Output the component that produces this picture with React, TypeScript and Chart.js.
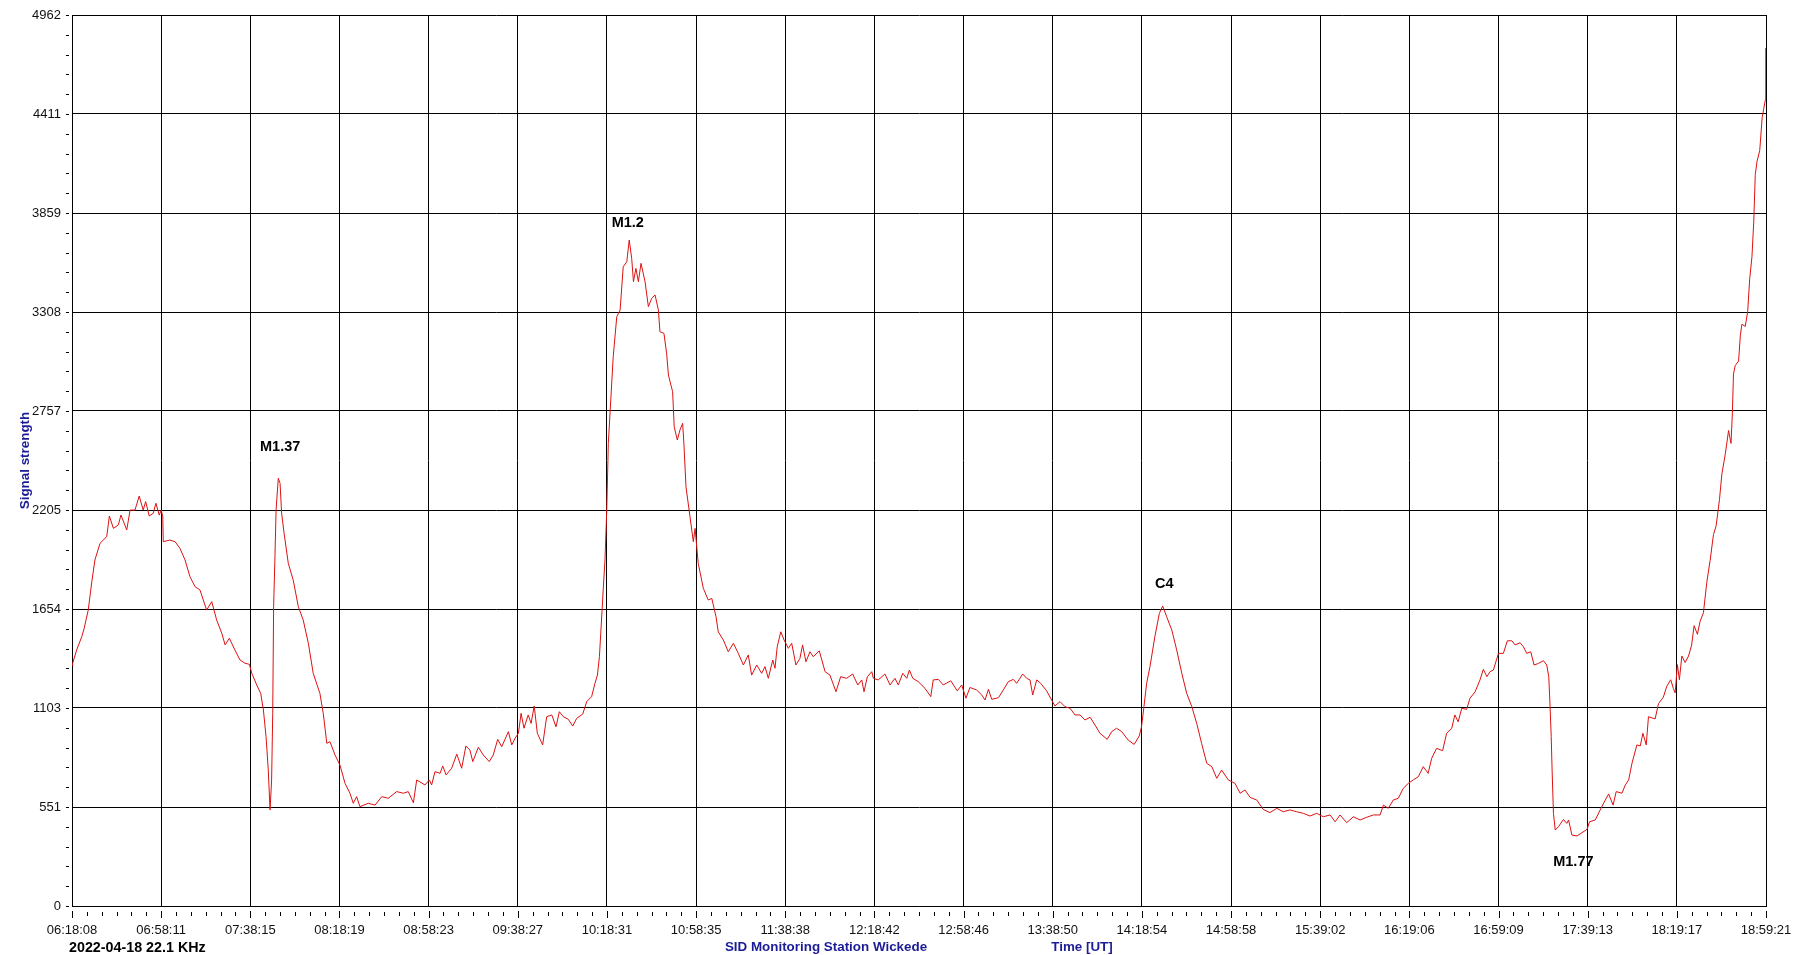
import { useEffect, useRef } from "react";
import { Chart, registerables, type Plugin } from "chart.js";

Chart.register(...registerables);

const FONT = '"Liberation Sans", Arial, sans-serif';
const NAVY = "#1c1c96";

// signal strength axis
const yTicks = [0, 551, 1103, 1654, 2205, 2757, 3308, 3859, 4411, 4962];

// time axis, 06:18:08 .. 18:59:21 UT in 19 equal steps
const xTickLabels = [
  "06:18:08", "06:58:11", "07:38:15", "08:18:19", "08:58:23", "09:38:27", "10:18:31",
  "10:58:35", "11:38:38", "12:18:42", "12:58:46", "13:38:50", "14:18:54", "14:58:58",
  "15:39:02", "16:19:06", "16:59:09", "17:39:13", "18:19:17", "18:59:21",
];
const spanMinutes = 761.2167; // 12:41:13

// trace, minutes after 06:18:08
const traceMinutes = [
  0, 0.3, 2.1, 4.4, 5.4, 7.3, 8.9, 10.3, 12.6, 15.6, 16.8, 18.6, 20.8, 22.0, 24.6, 26.1, 28.3, 30.2,
  32.0, 33.1, 34.7, 36.5, 37.7, 39.2, 40.1, 40.8, 41.0, 44.0, 46.3, 48.5, 50.8, 53.0, 55.3, 57.5,
  60.5, 62.8, 65.0, 67.3, 68.8, 70.7, 73.2, 75.5, 77.7, 79.7, 80.8, 83.0, 84.8, 86.0, 87.2, 88.2,
  89.0, 89.7, 90.2, 90.6, 91.2, 91.7, 92.7, 93.5, 94.2, 95.3, 97.2, 99.4, 101.7, 103.9, 106.2,
  108.4, 111.4, 112.9, 114.5, 115.9, 118.2, 120.4, 122.7, 124.9, 126.4, 127.9, 129.4, 133.1, 136.2,
  139.2, 142.1, 145.9, 148.9, 151.1, 153.4, 154.9, 158.6, 160.6, 161.6, 163.1, 165.4, 166.6, 168.1,
  170.6, 172.9, 175.1, 177.0, 178.8, 180.1, 182.6, 184.8, 187.5, 189.3, 191.3, 193.1, 196.1, 197.6,
  199.1, 200.6, 201.8, 203.1, 205.0, 206.3, 207.7, 209.1, 211.5, 213.3, 215.6, 217.5, 219.0, 220.8,
  223.0, 225.0, 226.8, 229.5, 231.3, 233.5, 235.0, 236.1, 237.0, 237.6, 238.2, 238.7, 239.5, 240.3,
  241.0, 242.1, 243.2, 244.8, 246.3, 247.7, 249.3, 250.4, 251.5, 252.3, 253.4, 254.5, 255.7, 257.5,
  259.0, 260.5, 262.0, 263.5, 264.2, 266.0, 267.2, 268.0, 269.9, 270.6, 272.0, 273.2, 274.4, 275.0,
  275.9, 277.7, 279.2, 280.0, 281.4, 283.7, 285.9, 287.5, 289.4, 290.4, 292.7, 294.9, 297.2, 299.4,
  301.7, 303.9, 305.4, 307.7, 309.9, 311.4, 312.9, 314.9, 315.9, 316.9, 318.5, 320.0, 321.9, 323.4,
  325.3, 327.1, 328.3, 329.8, 331.6, 333.1, 335.8, 338.4, 340.6, 343.3, 345.4, 348.1, 350.8, 353.1,
  354.9, 355.9, 357.4, 359.4, 360.1, 362.3, 365.3, 367.6, 369.8, 371.3, 373.3, 375.1, 376.3, 377.8,
  380.3, 383.3, 385.9, 387.0, 389.3, 391.5, 394.9, 397.8, 399.8, 401.7, 403.5, 406.5, 408.8, 410.3,
  411.8, 413.3, 416.3, 418.5, 420.7, 423.0, 424.5, 427.2, 429.0, 430.5, 431.7, 433.5, 435.3, 438.0,
  440.2, 441.7, 444.0, 446.2, 448.5, 450.7, 453.0, 455.2, 457.5, 459.7, 461.9, 465.2, 467.2, 469.4,
  471.7, 474.6, 477.3, 479.6, 480.6, 481.7, 482.9, 484.4, 486.6, 488.6, 490.1, 491.9, 494.2, 496.4,
  498.7, 500.9, 503.2, 505.4, 507.6, 509.9, 512.2, 514.4, 516.6, 519.6, 522.6, 524.9, 527.1, 529.4,
  532.4, 535.3, 538.3, 541.4, 544.3, 547.3, 550.3, 553.3, 556.3, 559.3, 562.3, 565.3, 567.6, 569.8,
  572.8, 575.8, 578.8, 581.8, 584.8, 587.8, 589.3, 591.5, 593.7, 596.0, 598.2, 600.5, 602.7, 605.0,
  607.2, 609.4, 611.0, 613.2, 615.9, 617.7, 620.0, 621.4, 622.9, 624.5, 626.7, 628.2, 630.5, 632.7,
  634.2, 635.8, 637.2, 638.7, 641.0, 643.2, 645.0, 647.0, 648.5, 650.7, 652.2, 653.7, 655.5, 657.0,
  659.0, 661.2, 662.7, 663.6, 664.2, 664.7, 665.1, 665.7, 666.5, 668.0, 670.2, 671.7, 672.5, 674.0,
  676.3, 678.5, 680.8, 681.9, 684.5, 686.7, 689.0, 690.5, 692.5, 693.9, 696.5, 698.0, 699.5, 701.0,
  703.2, 704.7, 705.9, 707.4, 708.4, 711.4, 712.9, 715.1, 716.6, 718.4, 719.6, 720.4, 721.4, 722.3,
  723.4, 724.9, 726.4, 727.8, 728.9, 730.4, 731.6, 733.1, 734.6, 736.1, 737.6, 738.8, 740.3, 741.4,
  742.9, 744.4, 745.5, 746.1, 746.6, 747.4, 748.9, 749.7, 750.4, 751.9, 753.0, 753.9, 754.9, 755.7,
  756.4, 757.2, 758.4, 759.5, 760.2, 760.9, 761.0, 761.2,
];
const traceSignal = [
  1340, 1352, 1426, 1500, 1543, 1648, 1806, 1927, 2020, 2057, 2172, 2103, 2122, 2177, 2094, 2205, 2205, 2283,
  2205, 2252, 2172, 2187, 2243, 2177, 2205, 2168, 2029, 2038, 2029, 1992, 1927, 1834, 1778, 1760,
  1648, 1695, 1593, 1519, 1454, 1491, 1426, 1370, 1352, 1346, 1296, 1231, 1184, 1092, 943, 757,
  535, 702, 1073, 1667, 1945, 2205, 2382, 2354, 2187, 2076, 1908, 1815, 1667, 1593, 1463,
  1296, 1184, 1073, 906, 915, 841, 785, 683, 628, 572, 609, 553, 572, 562,
  609, 600, 637, 628, 637, 575, 702, 674, 702, 674, 748, 739, 780, 730,
  767, 846, 767, 891, 869, 804, 884, 841, 804, 841, 928, 887, 971, 897,
  934, 962, 1073, 990, 1064, 1017, 1114, 962, 897, 1054, 1064, 998, 1082, 1054,
  1040, 1002, 1045, 1069, 1138, 1166, 1240, 1286, 1388, 1519, 1648, 1760, 1927, 2205,
  2576, 2818, 3059, 3282, 3319, 3560, 3588, 3709, 3607, 3477, 3551, 3477, 3579, 3477,
  3338, 3384, 3403, 3319, 3198, 3189, 3078, 2957, 2864, 2669, 2595, 2651, 2688, 2567,
  2335, 2168, 2029, 2103, 1908, 1769, 1704, 1713, 1611, 1527, 1481, 1416, 1463, 1407,
  1342, 1398, 1286, 1342, 1296, 1333, 1268, 1370, 1324, 1444, 1527, 1481, 1435, 1463,
  1342, 1379, 1454, 1360, 1416, 1388, 1421, 1305, 1286, 1193, 1277, 1268, 1292, 1231,
  1259, 1193, 1277, 1305, 1268, 1259, 1292, 1231, 1268, 1231, 1296, 1268, 1314, 1268,
  1249, 1212, 1166, 1259, 1262, 1231, 1254, 1198, 1231, 1157, 1217, 1203, 1175, 1147,
  1207, 1151, 1160, 1203, 1249, 1262, 1240, 1292, 1268, 1259, 1175, 1259, 1240, 1198,
  1147, 1114, 1138, 1110, 1101, 1064, 1064, 1036, 1051, 1008, 962, 928, 971, 990,
  971, 924, 900, 947, 998, 1110, 1240, 1333, 1500, 1629, 1671, 1611, 1537, 1426,
  1296, 1184, 1110, 1017, 906, 795, 776, 711, 757, 702, 683, 628, 646, 605,
  590, 538, 520, 544, 525, 535, 525, 516, 501, 516, 497, 507, 469, 507,
  464, 497, 479, 494, 507, 507, 562, 544, 590, 600, 655, 683, 702, 720,
  776, 739, 823, 878, 865, 962, 990, 1064, 1026, 1101, 1095, 1157, 1193, 1259,
  1318, 1277, 1305, 1314, 1407, 1407, 1477, 1477, 1454, 1466, 1444, 1407, 1416, 1342,
  1351, 1366, 1342, 1277, 1110, 943, 757, 516, 423, 442, 482, 460, 479, 395,
  390, 408, 427, 469, 479, 535, 590, 624, 562, 637, 628, 674, 702, 795,
  897, 891, 962, 897, 1054, 1042, 1127, 1163, 1223, 1260, 1211, 1187, 1344, 1260,
  1392, 1356, 1392, 1453, 1561, 1513, 1585, 1633, 1802, 1923, 2068, 2117, 2262, 2407,
  2515, 2648, 2576, 2745, 2962, 3010, 3035, 3179, 3240, 3228, 3312, 3494, 3615, 3808,
  4074, 4147, 4207, 4392, 4440, 4488, 4620, 4778,
];

// flare labels: text, minutes after start, signal level of the label
const flareLabels = ["M1.37", "M1.2", "C4", "M1.77"];
const flareMinutes = [84.5, 242.5, 486.7, 665.6];
const flareSignal = [2556, 3805, 1793, 247];

const tickMarks: Plugin<"line"> = {
  id: "tickMarks",
  afterDraw(chart) {
    const { ctx, chartArea } = chart;
    const xs = chart.scales.x;
    const ys = chart.scales.y;
    ctx.save();
    ctx.strokeStyle = "#000";
    ctx.lineWidth = 1;
    ctx.beginPath();
    const step = spanMinutes / (xTickLabels.length - 1);
    for (let i = 0; i <= (xTickLabels.length - 1) * 6; i++) {
      const px = Math.round(xs.getPixelForValue((i * step) / 6)) + 0.5;
      const major = i % 6 === 0;
      ctx.moveTo(px, chartArea.bottom + (major ? 5 : 6));
      ctx.lineTo(px, chartArea.bottom + (major ? 12 : 10));
    }
    for (let k = 0; k < yTicks.length; k++) {
      const n = k < yTicks.length - 1 ? 5 : 1;
      for (let j = 0; j < n; j++) {
        const v = k < yTicks.length - 1 ? yTicks[k] + ((yTicks[k + 1] - yTicks[k]) * j) / 5 : yTicks[k];
        const py = Math.round(ys.getPixelForValue(v)) + 0.5;
        ctx.moveTo(chartArea.left - 6, py);
        ctx.lineTo(chartArea.left - 3, py);
      }
    }
    ctx.stroke();

    ctx.fillStyle = "#000";
    ctx.font = `bold 14.5px ${FONT}`;
    ctx.textAlign = "left";
    ctx.textBaseline = "middle";
    flareLabels.forEach((t, i) => {
      ctx.fillText(t, xs.getPixelForValue(flareMinutes[i]), ys.getPixelForValue(flareSignal[i]));
    });
    ctx.restore();
  },
};

function SidChart() {
  const canvasRef = useRef<HTMLCanvasElement>(null);
  const chartRef = useRef<Chart | null>(null);

  useEffect(() => {
    if (!canvasRef.current) return;

    chartRef.current = new Chart(canvasRef.current, {
      type: "line",
      data: {
        datasets: [
          {
            data: traceMinutes.map((m, i) => ({ x: m, y: traceSignal[i] })),
            borderColor: "#dd1111",
            borderWidth: 1,
            pointRadius: 0,
            tension: 0,
          },
        ],
      },
      options: {
        animation: false,
        responsive: true,
        maintainAspectRatio: false,
        layout: { padding: { left: 0, top: 15, right: 28, bottom: 0 } },
        plugins: { legend: { display: false }, tooltip: { enabled: false } },
        scales: {
          x: {
            type: "linear",
            min: 0,
            max: spanMinutes,
            afterBuildTicks: (s) => {
              s.ticks = xTickLabels.map((_, i) => ({ value: (i * spanMinutes) / (xTickLabels.length - 1) }));
            },
            afterFit: (s) => {
              s.height = 49;
              s.paddingLeft = 0;
              s.paddingRight = 0;
            },
            grid: { color: "#000", lineWidth: 1, drawTicks: false },
            border: { color: "#000", width: 1 },
            ticks: {
              autoSkip: false,
              maxRotation: 0,
              minRotation: 0,
              padding: 17,
              color: "#111",
              font: { family: FONT, size: 13 },
              callback: (_v, i) => xTickLabels[i],
            },
          },
          y: {
            min: 0,
            max: 4962,
            afterBuildTicks: (s) => {
              s.ticks = yTicks.map((v) => ({ value: v }));
            },
            afterFit: (s) => {
              s.width = 72;
              s.paddingTop = 0;
              s.paddingBottom = 0;
            },
            grid: { color: "#000", lineWidth: 1, drawTicks: false },
            border: { color: "#000", width: 1 },
            ticks: {
              padding: 11,
              color: "#111",
              font: { family: FONT, size: 13 },
              callback: (_v, i) => String(yTicks[i]),
            },
            title: {
              display: true,
              text: "Signal strength",
              color: NAVY,
              font: { family: FONT, size: 13.4, weight: "bold" },
              padding: { top: 17, bottom: 0 },
            },
          },
        },
      },
      plugins: [tickMarks],
    });

    return () => {
      chartRef.current?.destroy();
    };
  }, []);

  const caption = {
    position: "absolute" as const,
    top: 939,
    fontFamily: FONT,
    fontWeight: "bold" as const,
    lineHeight: "16px",
    whiteSpace: "nowrap" as const,
  };

  return (
    <div style={{ position: "fixed", left: 0, top: 0, width: 1794, height: 955, background: "#fff" }}>
      <canvas ref={canvasRef} />
      <div style={{ ...caption, left: 69, fontSize: 14.3, color: "#000" }}>2022-04-18 22.1 KHz</div>
      <div style={{ ...caption, left: 826, transform: "translateX(-50%)", fontSize: 13.4, color: NAVY }}>
        SID Monitoring Station Wickede
      </div>
      <div style={{ ...caption, left: 1082, transform: "translateX(-50%)", fontSize: 13.4, color: NAVY }}>
        Time [UT]
      </div>
    </div>
  );
}

export default function App() {
  return <SidChart />;
}
